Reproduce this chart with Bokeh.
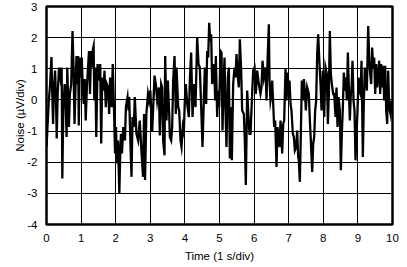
from bokeh.plotting import figure
from bokeh.models import Range1d, FixedTicker, ColumnDataSource
from bokeh.embed import file_html
from bokeh.resources import INLINE

# Time (s) and noise (uV)
time_s = [
    0.000, 0.029, 0.067, 0.105, 0.143, 0.171, 0.190, 0.219, 0.248, 0.276, 0.295, 0.324, 0.362, 0.400, 0.438,
    0.457, 0.486, 0.524, 0.552, 0.581, 0.600, 0.648, 0.676, 0.714, 0.752, 0.781, 0.810, 0.838, 0.867, 0.895,
    0.914, 0.933, 0.962, 0.990, 1.019, 1.048, 1.076, 1.105, 1.133, 1.171, 1.200, 1.229, 1.257, 1.286, 1.314,
    1.343, 1.362, 1.381, 1.410, 1.438, 1.476, 1.514, 1.552, 1.581, 1.610, 1.648, 1.676, 1.714, 1.743, 1.781,
    1.810, 1.838, 1.886, 1.914, 1.952, 1.981, 2.010, 2.029, 2.067, 2.105, 2.133, 2.152, 2.181, 2.219, 2.267,
    2.295, 2.343, 2.371, 2.390, 2.429, 2.457, 2.486, 2.524, 2.552, 2.600, 2.648, 2.695, 2.743, 2.790, 2.819,
    2.848, 2.886, 2.933, 2.962, 3.000,
    3.054, 3.122, 3.160, 3.199, 3.247, 3.276, 3.314, 3.343, 3.372, 3.411, 3.430, 3.468, 3.507, 3.546, 3.565,
    3.603, 3.632, 3.661, 3.700, 3.738, 3.757, 3.806, 3.835, 3.873, 3.902, 3.940, 3.969, 3.998, 4.027, 4.066,
    4.114, 4.143, 4.181, 4.220, 4.258, 4.307, 4.355, 4.393, 4.432, 4.451, 4.480, 4.509, 4.547, 4.576, 4.615,
    4.644, 4.673, 4.702, 4.730, 4.759, 4.788, 4.817, 4.846, 4.875, 4.894, 4.933, 4.962, 4.991, 5.029, 5.058,
    5.087, 5.125, 5.145, 5.174, 5.202, 5.241, 5.270, 5.299, 5.328, 5.357, 5.395, 5.434, 5.463, 5.491, 5.530,
    5.559, 5.588, 5.626, 5.655, 5.703, 5.732, 5.761, 5.800, 5.838, 5.867, 5.896, 5.935, 5.973, 6.012, 6.050,
    6.089, 6.137, 6.185, 6.214, 6.243, 6.282, 6.330,
    6.359, 6.388, 6.426, 6.446, 6.474, 6.503, 6.523, 6.552, 6.580, 6.609, 6.648, 6.677, 6.706, 6.735, 6.764,
    6.783, 6.812, 6.841, 6.869, 6.908, 6.937, 6.966, 6.995, 7.024, 7.053, 7.081, 7.120, 7.149, 7.178, 7.216,
    7.245, 7.274, 7.293, 7.322, 7.351, 7.380, 7.409, 7.438, 7.467, 7.496, 7.534, 7.582, 7.611, 7.640, 7.679,
    7.708, 7.737, 7.765, 7.794, 7.823, 7.852, 7.881, 7.920, 7.949, 7.987, 8.026, 8.064, 8.103, 8.132, 8.160,
    8.189, 8.218, 8.247, 8.286, 8.315, 8.353, 8.382, 8.411, 8.440, 8.478, 8.507, 8.536, 8.565, 8.594, 8.623,
    8.652, 8.681, 8.710, 8.738, 8.767, 8.796, 8.816, 8.844, 8.873, 8.902, 8.931, 8.960, 8.989, 9.018, 9.047,
    9.076, 9.105, 9.143, 9.172, 9.201, 9.230, 9.259, 9.297, 9.326, 9.355, 9.384, 9.413, 9.442, 9.471, 9.500,
    9.528, 9.557, 9.586, 9.615, 9.644, 9.673, 9.702, 9.731, 9.760, 9.789, 9.818, 9.846, 9.875, 9.904, 9.943,
    9.972, 10.000,
]

noise_uv = [
    -1.51, -0.87, -0.02, 0.51, 1.38, -0.02, -0.77, 0.40, 0.94, -0.02, -1.24, 0.19, 1.04, 0.72, 1.04,
    -2.52, -0.34, 0.51, -0.02, -1.19, 1.04, -0.87, 0.19, 0.51, 2.21, 1.04, -0.77, 0.40, 1.41, 0.51,
    1.41, -0.82, 1.36, 0.72, 1.36, 0.40, -0.13, 0.67, -0.66, 0.51, 1.04, 1.57, 0.19, 1.57, 1.04,
    1.63, 1.73, -0.02, 1.04, -1.19, 1.15, 0.62, 1.15, -1.40, 0.72, 0.30, 0.94, -0.23, 0.51, 0.40,
    -0.45, 0.72, -0.23, 1.15, -0.34, -1.72, -0.87, -2.04, -1.30, -3.00, -1.62, -1.09, -1.72, -0.87, -1.30,
    -0.23, 0.09, -0.34, 0.09, -1.51, -2.47, -0.55, -0.87, 0.09, -1.09, -1.30, -0.66, -1.62, -2.47, -0.45,
    -2.57, -0.45, 0.19, -0.02, 0.30,
    -1.03, 0.78, 0.51, -0.02, 0.40, -1.14, 0.51, 0.40, -1.30, -1.78, 1.41, -0.66, 0.62, -0.45, -1.19,
    -1.30, -0.87, 0.62, 1.41, -0.45, 1.04, -0.23, -0.34, -1.30, -1.51, -0.87, -1.03, -0.02, 0.51, -0.13,
    -0.55, 0.62, 1.52, -0.55, 0.51, -0.23, 2.00, 1.15, 1.04, 0.40, -0.55, -1.51, -0.02, 1.04, -0.13,
    1.57, 1.36, 2.48, 1.89, 2.11, 0.51, 0.94, 1.15, -0.02, 1.41, -0.55, 0.30, -0.23, 1.57, 1.52,
    -0.98, 0.72, 1.36, -0.34, -1.51, 0.72, 1.04, -1.88, -0.23, -1.94, 0.51, 1.04, 0.72, 1.47, 0.72,
    0.40, 1.95, 0.94, -0.34, -0.45, -1.30, -2.73, 0.30, -0.55, -1.09, -1.09, -0.02, 0.94, 1.04, 0.19,
    0.94, 0.51, 0.19, 0.40, 1.26, 0.72, 1.04,
    -0.02, 1.26, 2.43, 0.62, -0.02, 0.19, 0.62, -0.13, -0.87, -0.66, -2.15, -0.87, -1.30, -1.51, -0.66,
    -1.09, -1.72, -0.77, -0.66, 0.99, -0.02, 0.88, 0.40, 0.62, -0.13, -0.34, -1.09, -1.19, -1.62, -1.51,
    -0.98, -1.83, -1.94, -2.63, -1.09, 0.62, -0.02, 0.67, 0.30, -0.34, 0.40, 0.19, -0.66, -1.30, -2.31,
    -1.40, -1.19, -0.34, -0.02, 1.47, 2.11, 1.36, 0.51, -0.34, 0.94, -0.55, 1.04, 0.83, -0.77, 0.19,
    2.21, 0.83, 0.51, 0.19, 0.19, -0.55, 0.40, -0.87, 0.09, -0.34, -2.26, -1.09, -0.23, 0.88, 0.30,
    0.72, -0.02, 1.52, 0.40, -0.66, 0.19, 0.40, 1.26, -0.02, -0.34, -1.94, -1.09, -0.34, 0.72, 0.30,
    0.19, 1.26, -1.83, -0.02, 1.04, 0.72, 0.30, 2.37, 1.36, 0.83, 0.51, 1.68, 1.04, 1.36, 0.19,
    1.15, 0.40, 0.72, 1.26, 0.19, 1.15, 0.40, 1.10, -0.02, 1.10, -0.34, -0.77, 0.94, -0.23, -0.45,
    -0.02, -0.34,
]

x_ticks = [0, 1, 2, 3, 4, 5, 6, 7, 8, 9, 10]
y_ticks = [-4, -3, -2, -1, 0, 1, 2, 3]

FONT = "Liberation Sans"

p = figure(width=407, height=267, output_backend="svg", toolbar_location=None,
           x_range=Range1d(0, 10), y_range=Range1d(-4, 3),
           min_border_left=46, min_border_right=15, min_border_top=6, min_border_bottom=43)

src = ColumnDataSource(dict(t=time_s, v=noise_uv))
p.line("t", "v", source=src, line_color="black", line_width=2.3, line_join="miter")

p.outline_line_color = "black"
p.outline_line_width = 2.5
p.background_fill_color = "white"
p.border_fill_color = "white"

for g in (p.xgrid[0], p.ygrid[0]):
    g.grid_line_color = "black"
    g.grid_line_width = 1
    g.grid_line_alpha = 1.0

p.xaxis.ticker = FixedTicker(ticks=x_ticks)
p.yaxis.ticker = FixedTicker(ticks=y_ticks)
p.xgrid[0].ticker = FixedTicker(ticks=x_ticks)
p.ygrid[0].ticker = FixedTicker(ticks=y_ticks)
p.xaxis.major_label_overrides = {t: str(t) for t in x_ticks}
p.yaxis.major_label_overrides = {t: str(t) for t in y_ticks}

p.xaxis.axis_label = "Time (1 s/div)"
p.yaxis.axis_label = "Noise (\u00b5V/div)"

for ax in (p.xaxis[0], p.yaxis[0]):
    ax.axis_line_color = None
    ax.major_tick_line_color = None
    ax.minor_tick_line_color = None
    ax.major_tick_out = 0
    ax.major_tick_in = 0
    ax.major_label_text_font = FONT
    ax.major_label_text_font_size = "11.5px"
    ax.major_label_text_color = "black"
    ax.axis_label_text_font = FONT
    ax.axis_label_text_font_size = "11.5px"
    ax.axis_label_text_font_style = "normal"
    ax.axis_label_text_color = "black"

p.xaxis.major_label_standoff = 9
p.xaxis.axis_label_standoff = 5
p.yaxis.major_label_standoff = 9
p.yaxis.axis_label_standoff = -2

open("out.html", "w").write(file_html(p, INLINE))
